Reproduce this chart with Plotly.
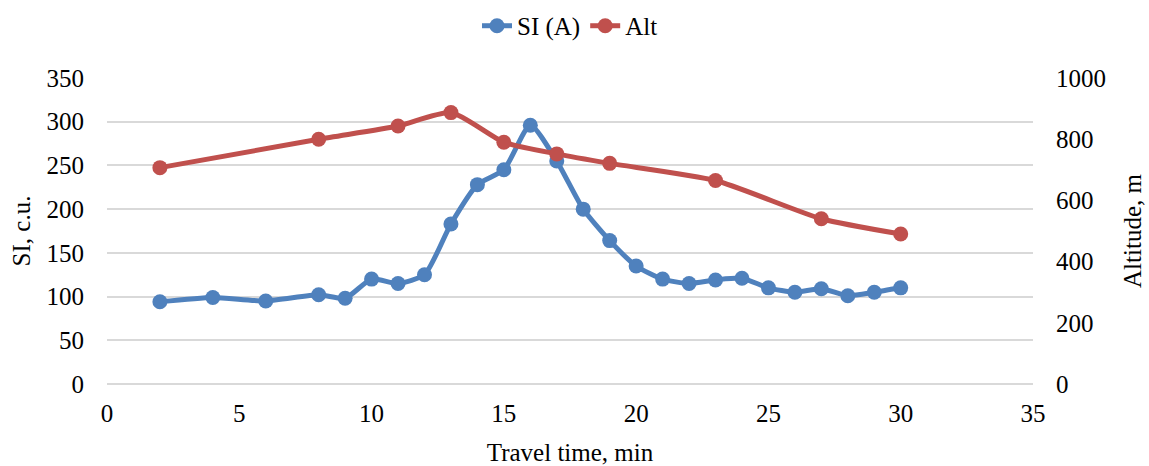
import plotly.graph_objects as go

si_time = [2, 4, 6, 8, 9, 10, 11, 12, 13, 14, 15, 16, 17, 18, 19, 20, 21, 22, 23, 24, 25, 26, 27, 28, 29, 30]
si_vals = [94, 99, 95, 102, 98, 120, 115, 125, 183, 228, 245, 296, 255, 200, 164, 135, 120, 115, 119, 121, 110, 105, 109, 101, 105, 110]

alt_time = [2, 8, 11, 13, 15, 17, 19, 23, 27, 30]
alt_vals = [707, 800, 843, 887, 790, 752, 721, 665, 540, 490]

FONT = '"Liberation Serif", "Times New Roman", serif'
FS = 25
BLUE = "#4f81bd"
RED = "#c0504d"
GRID = "#d9d9d9"

fig = go.Figure()
fig.add_trace(go.Scatter(
    x=si_time, y=si_vals, name="SI (A)", mode="lines+markers",
    line=dict(color=BLUE, width=5, shape="spline", smoothing=0.6),
    marker=dict(color=BLUE, size=15), yaxis="y"))
fig.add_trace(go.Scatter(
    x=alt_time, y=alt_vals, name="Alt", mode="lines+markers",
    line=dict(color=RED, width=5, shape="spline", smoothing=0.6),
    marker=dict(color=RED, size=15), yaxis="y2"))

fig.update_layout(
    width=1149, height=466,
    margin=dict(l=107, r=116, t=78, b=82, autoexpand=False),
    paper_bgcolor="white", plot_bgcolor="white",
    font=dict(family=FONT, size=FS, color="#000000"),
    showlegend=True,
    legend=dict(orientation="h", x=0.5, xanchor="center", y=1.17, yanchor="middle",
                font=dict(family=FONT, size=FS)),
    xaxis=dict(range=[0, 35], tickvals=[0, 5, 10, 15, 20, 25, 30, 35],
               showgrid=False, zeroline=False, showline=False,
               ticks="", ticklen=0, ticklabelstandoff=12,
               tickfont=dict(family=FONT, size=FS),
               title=dict(text="Travel time, min", font=dict(family=FONT, size=FS), standoff=17)),
    yaxis=dict(range=[0, 350], tickvals=[0, 50, 100, 150, 200, 250, 300, 350],
               showgrid=True, gridcolor=GRID, gridwidth=1.5,
               zeroline=True, zerolinecolor=GRID, zerolinewidth=1.5, showline=False,
               ticks="", ticklen=0, ticklabelstandoff=22,
               tickfont=dict(family=FONT, size=FS),
               title=dict(text="SI, c.u.", font=dict(family=FONT, size=FS), standoff=8)),
    yaxis2=dict(range=[0, 1000], tickvals=[0, 200, 400, 600, 800, 1000],
                overlaying="y", side="right", showgrid=False, zeroline=False, showline=False,
                ticks="", ticklen=0, ticklabelstandoff=22,
                tickfont=dict(family=FONT, size=FS),
                title=dict(text="Altitude, m", font=dict(family=FONT, size=FS), standoff=18)),
)

fig.write_html("out.html")
